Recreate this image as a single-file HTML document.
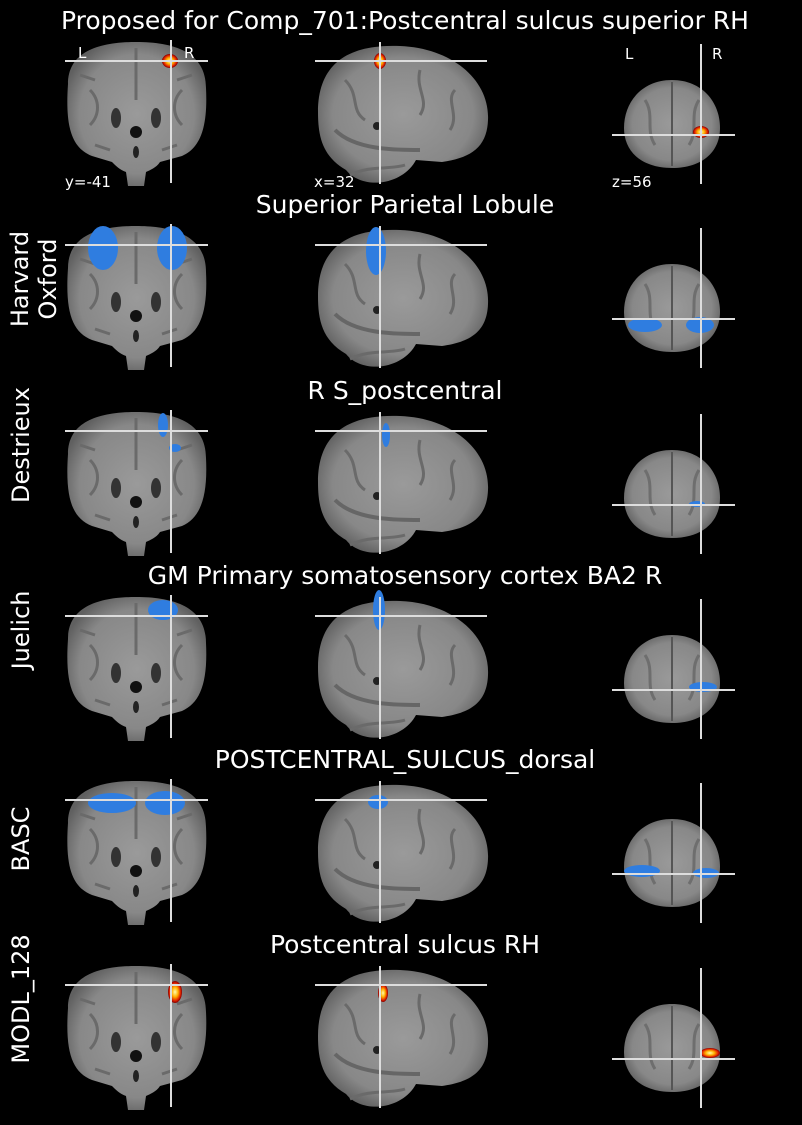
<!DOCTYPE html>
<html><head><meta charset="utf-8"><style>
html,body{margin:0;padding:0;background:#000;}
svg{display:block;font-family:"DejaVu Sans","Liberation Sans",sans-serif;}
</style></head><body>
<svg id="fig" width="802" height="1125" viewBox="0 0 802 1125">
<defs>
<radialGradient id="gm" cx="50%" cy="50%" r="55%"><stop offset="0" stop-color="#9a9a9a"/><stop offset="0.75" stop-color="#888"/><stop offset="1" stop-color="#606060"/></radialGradient>
<radialGradient id="hot" cx="50%" cy="50%" r="50%"><stop offset="0" stop-color="#ffffb0"/><stop offset="0.45" stop-color="#ffb000"/><stop offset="0.8" stop-color="#e02000"/><stop offset="1" stop-color="#800000"/></radialGradient>
</defs>
</svg>
<script>
const titles = ["Proposed for Comp_701:Postcentral sulcus superior RH","Superior Parietal Lobule","R S_postcentral","GM Primary somatosensory cortex BA2 R","POSTCENTRAL_SULCUS_dorsal","Postcentral sulcus RH"];
const rowLabels = [[],["Harvard","Oxford"],["Destrieux"],["Juelich"],["BASC"],["MODL_128"]];
const rowOffsets = [0,184,370,555,739,924];
const blobType = ["hot","blue","blue","blue","blue","hot"];
// blobs: [view, cx, cy, rx, ry] in row-1 coordinates
const blobs = [
 [["c",170,61,8,7],["s",380,61,6,8],["a",701,132,8,6]],
 [["c",103,64,15,22],["c",172,64,15,22],["s",376,67,10,24],["a",645,141,17,7],["a",700,141,14,8]],
 [["c",163,55,5,12],["c",175,78,6,4],["s",386,65,4,12],["a",697,134,8,3]],
 [["c",163,55,15,10],["s",379,55,6,20],["a",703,132,14,5]],
 [["c",112,64,24,10],["c",165,64,20,12],["s",378,63,10,7],["a",642,132,18,6],["a",706,134,13,5]],
 [["c",175,68,7,11],["s",383,69,5,9],["a",710,129,10,5]]
];
const svg=document.getElementById('fig');
const NS="http://www.w3.org/2000/svg";
function mk(tag,attrs,parent){const e=document.createElementNS(NS,tag);for(const k in attrs)e.setAttribute(k,attrs[k]);(parent||svg).appendChild(e);return e;}
const cor="M68,84 C68,52 98,42 136,42 C174,42 206,52 206,88 C208,128 200,148 182,156 L160,162 C156,168 150,170 146,172 L144,186 L128,186 L126,172 C120,170 116,166 112,162 L92,156 C72,148 65,128 68,84 Z";
const sag="M318,112 C318,62 350,44 400,46 C452,48 490,80 488,120 C487,148 470,158 442,162 L416,160 C402,186 362,190 346,170 C322,156 318,136 318,112 Z";
const ax="M672,80 C702,80 720,102 720,128 C720,152 702,168 672,168 C642,168 624,152 624,128 C624,102 642,80 672,80 Z";
titles.forEach((t,i)=>{
  const oy=rowOffsets[i];
  const g=mk('g',{transform:`translate(0,${oy})`});
  
  
  const tt=mk('text',{x:405,y:29,'text-anchor':'middle','font-size':25,fill:'#fff'},g);
  tt.textContent=t;
  
  
  const c=mk('path',{d:cor,fill:'url(#gm)'},g);
  
  
  ["M90,90 C100,100 100,115 90,125","M182,90 C172,100 172,115 182,125","M80,75 L95,80","M192,75 L177,80","M136,48 L136,100","M110,150 L95,145","M162,150 L177,145"].forEach(d=>mk('path',{d:d,stroke:'#6a6a6a','stroke-width':3,fill:'none'},g));
  mk('ellipse',{cx:116,cy:118,rx:5,ry:10,fill:'#333'},g);
  mk('ellipse',{cx:156,cy:118,rx:5,ry:10,fill:'#333'},g);
  mk('circle',{cx:136,cy:132,r:6,fill:'#111'},g);
  mk('ellipse',{cx:136,cy:152,rx:3,ry:6,fill:'#222'},g);
  const s=mk('path',{d:sag,fill:'url(#gm)'},g);
  
  
  ["M345,80 C360,95 350,110 365,120","M420,70 C415,90 430,100 420,115","M455,90 C445,100 460,115 450,130","M350,175 C370,165 390,170 405,165"].forEach(d=>mk('path',{d:d,stroke:'#6a6a6a','stroke-width':3,fill:'none'},g));
  mk('circle',{cx:377,cy:126,r:4,fill:'#222'},g);
  mk('path',{d:"M335,130 C355,150 395,150 420,150",stroke:'#666','stroke-width':4,fill:'none'},g);
  const a=mk('path',{d:ax,fill:'url(#gm)'},g);
  
  
  mk('line',{x1:672,y1:82,x2:672,y2:166,stroke:'#555','stroke-width':2},g);
  ["M645,100 C655,115 645,130 655,145","M699,100 C689,115 699,130 689,145"].forEach(d=>mk('path',{d:d,stroke:'#6e6e6e','stroke-width':3,fill:'none'},g));
  blobs[i].forEach(b=>{
    const e=mk('ellipse',{cx:b[1],cy:b[2],rx:b[3],ry:b[4],fill:blobType[i]==='hot'?'url(#hot)':'#2f7de0'},g);
    
    
  });
  const L=[[65,61,208,61],[171,40,171,183],[315,61,487,61],[380,42,380,184],[612,135,735,135],[701,44,701,184]];
  L.forEach(l=>{
    const ln=mk('line',{x1:l[0],y1:l[1],x2:l[2],y2:l[3],stroke:'#ddd','stroke-width':2},g);
    
    
  });
  const lab=rowLabels[i];
  if(lab.length){
    const cy=[0,95,75,75,100,75][i];
    const tx=mk('text',{transform:`translate(29,${cy}) rotate(-90)`,'text-anchor':'middle','font-size':24,fill:'#fff'},g);
    
    
    lab.forEach((w,k)=>{const sp=mk('tspan',{x:0,dy:k===0?(lab.length>1?-1:0):28},tx);sp.textContent=w;});
  }
});
const ann=[[78,58,"L"],[184,58,"R"],[625,59,"L"],[712,59,"R"],[65,187,"y=-41"],[314,187,"x=32"],[612,187,"z=56"]];
ann.forEach(a=>{const t=mk('text',{x:a[0],y:a[1],'font-size':15,fill:'#fff'});t.textContent=a[2];
 
 });
</script>
</body></html>
